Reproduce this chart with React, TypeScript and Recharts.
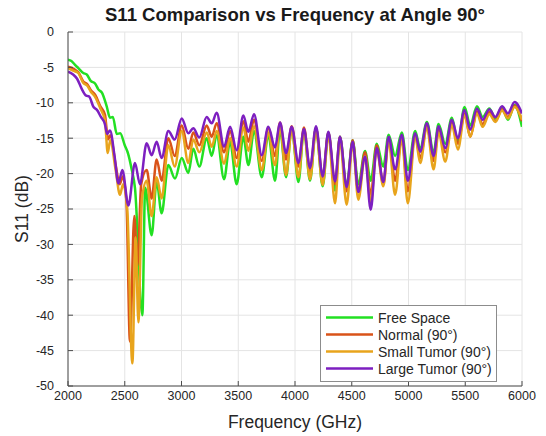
import { LineChart, Line, XAxis, YAxis, CartesianGrid, Legend, Label } from "recharts";

const FONT = '"Liberation Sans", Arial, sans-serif';

const xTicks = [2000, 2500, 3000, 3500, 4000, 4500, 5000, 5500, 6000];
const yTicks = [-50, -45, -40, -35, -30, -25, -20, -15, -10, -5, 0];

const seriesNames = ["Free Space", "Normal (90°)", "Small Tumor (90°)", "Large Tumor (90°)"];
const seriesColors = ["#22e022", "#d95319", "#e8a41c", "#7d1fc0"];

// 3000-6000 GHz: all four curves ripple in step, so they share these peak/trough positions
const tailFreq = [
  3002, 3060, 3104, 3157, 3222, 3266, 3310, 3375, 3428, 3486, 3545, 3589, 3639, 3707, 3765, 3824,
  3868, 3921, 3971, 4030, 4079, 4132, 4185, 4244, 4294, 4353, 4396, 4455, 4508, 4558, 4617, 4667,
  4720, 4778, 4825, 4882, 4941, 4994, 5059, 5103, 5162, 5221, 5265, 5324, 5382, 5435, 5494, 5544,
  5603, 5653, 5712, 5765, 5824, 5876, 5935, 6000,
];

// Free Space
const freeSpaceHeadFreq = [2000, 2030, 2060, 2091, 2135, 2165, 2200, 2240, 2267, 2300, 2341, 2370, 2395, 2430, 2460, 2500, 2530, 2560, 2590, 2655, 2680, 2737, 2781, 2825, 2884, 2943];
const freeSpaceHead = [-3.9, -4.1, -4.6, -5.1, -5.8, -6.0, -6.9, -7.3, -8.1, -8.6, -10.5, -12.1, -12.0, -14.4, -14.3, -16.0, -17.2, -19.3, -22.0, -40.0, -22.0, -28.7, -21.1, -25.6, -18.8, -20.7];
const freeSpaceTail = [
  -17.8, -19.9, -16.5, -19.0, -15.0, -17.5, -14.6, -20.8, -15.5, -21.5,
  -14.8, -18.8, -14.0, -20.5, -14.5, -21.0, -13.8, -20.5, -13.6, -21.2,
  -13.7, -21.0, -13.5, -21.8, -14.2, -22.4, -14.8, -21.8, -15.3, -21.5,
  -16.8, -21.0, -15.8, -19.0, -14.5, -17.5, -14.2, -19.5, -14.0, -16.5,
  -12.7, -17.0, -13.0, -15.8, -12.1, -15.5, -10.6, -13.2, -10.5, -12.0,
  -10.8, -12.2, -10.6, -12.4, -10.3, -13.4,
];

// Normal (90°)
const normalHeadFreq = [2000, 2050, 2091, 2135, 2170, 2200, 2240, 2285, 2326, 2352, 2372, 2420, 2455, 2482, 2515, 2546, 2584, 2612, 2645, 2693, 2737, 2781, 2825, 2884, 2940];
const normalHead = [-4.9, -5.2, -5.7, -7.0, -7.4, -8.2, -8.9, -10.5, -11.7, -15.2, -14.6, -18.8, -21.5, -20.4, -24.0, -43.7, -26.0, -33.0, -21.5, -19.5, -23.5, -18.0, -21.0, -15.0, -17.5];
const normalTail = [
  -13.2, -16.5, -14.2, -16.0, -13.2, -14.8, -12.9, -17.0, -14.0, -17.8,
  -12.6, -15.5, -12.4, -18.2, -13.6, -17.5, -12.8, -18.0, -13.3, -19.0,
  -13.5, -19.6, -13.6, -20.5, -14.2, -21.5, -14.8, -22.5, -15.3, -22.5,
  -17.0, -23.0, -16.0, -21.5, -15.0, -21.0, -14.8, -22.5, -14.5, -17.8,
  -13.2, -18.2, -13.8, -17.0, -12.8, -15.8, -11.5, -14.8, -11.2, -13.0,
  -11.3, -12.6, -10.9, -12.0, -10.4, -12.6,
];

// Small Tumor (90°)
const smallHeadFreq = [2000, 2050, 2091, 2135, 2170, 2200, 2240, 2285, 2326, 2350, 2372, 2420, 2458, 2485, 2522, 2567, 2596, 2620, 2652, 2693, 2737, 2781, 2825, 2884, 2940];
const smallHead = [-5.1, -5.5, -5.8, -7.2, -7.6, -8.4, -9.2, -10.8, -12.5, -17.1, -15.3, -19.5, -23.0, -21.5, -25.0, -46.8, -29.0, -41.0, -23.5, -21.0, -26.0, -20.5, -23.5, -16.0, -19.0];
const smallTail = [
  -14.0, -18.5, -15.2, -17.0, -14.2, -16.2, -14.0, -18.6, -15.0, -19.0,
  -13.5, -16.8, -13.3, -19.5, -14.2, -18.8, -13.3, -20.2, -13.8, -20.5,
  -13.9, -20.8, -13.9, -21.6, -14.5, -24.2, -15.1, -24.4, -15.7, -23.7,
  -17.5, -24.0, -16.6, -21.8, -15.3, -23.0, -15.0, -24.2, -14.8, -18.5,
  -13.5, -19.4, -14.2, -18.3, -13.1, -16.6, -11.8, -14.8, -11.5, -13.4,
  -11.6, -12.7, -11.1, -12.2, -10.6, -12.4,
];

// Large Tumor (90°)
const largeHeadFreq = [2000, 2045, 2080, 2120, 2160, 2185, 2225, 2255, 2290, 2325, 2345, 2370, 2410, 2444, 2479, 2532, 2590, 2634, 2693, 2737, 2781, 2825, 2884, 2940];
const largeHead = [-5.6, -6.0, -6.6, -8.0, -9.0, -9.1, -10.6, -11.0, -12.0, -13.0, -14.4, -13.9, -17.5, -21.4, -19.5, -24.5, -18.5, -21.5, -15.7, -17.4, -15.5, -17.8, -14.0, -15.2];
const largeTail = [
  -12.2, -14.3, -13.6, -14.9, -12.0, -12.9, -11.4, -16.2, -13.4, -16.7,
  -11.8, -14.1, -11.6, -17.4, -13.4, -16.3, -12.8, -17.1, -13.4, -18.5,
  -13.7, -19.2, -13.3, -20.4, -14.1, -21.1, -14.8, -21.9, -15.5, -22.6,
  -17.6, -25.1, -16.4, -21.2, -14.8, -19.4, -14.5, -21.0, -14.3, -16.9,
  -12.9, -17.5, -13.3, -16.4, -12.4, -15.0, -11.0, -13.8, -10.8, -12.4,
  -10.9, -12.0, -10.5, -11.5, -9.9, -11.5,
];

function toPoints(freq: number[], s11: number[]) {
  return freq.map((f, i) => ({ f, s11: s11[i] }));
}

const series = [
  toPoints([...freeSpaceHeadFreq, ...tailFreq], [...freeSpaceHead, ...freeSpaceTail]),
  toPoints([...normalHeadFreq, ...tailFreq], [...normalHead, ...normalTail]),
  toPoints([...smallHeadFreq, ...tailFreq], [...smallHead, ...smallTail]),
  toPoints([...largeHeadFreq, ...tailFreq], [...largeHead, ...largeTail]),
];

const tickStyle = { fill: "#262626", fontSize: 12.5, fontFamily: FONT };

function XTitle(props: any) {
  const vb = props.viewBox;
  return (
    <text x={vb.x + vb.width / 2} y={vb.y + 36} textAnchor="middle" dominantBaseline="central"
      fill="#262626" fontSize={17.5} fontFamily={FONT}>
      Frequency (GHz)
    </text>
  );
}

function YTitle(props: any) {
  const vb = props.viewBox;
  const cx = vb.x + 14;
  const cy = vb.y + vb.height / 2;
  return (
    <text x={cx} y={cy} transform={`rotate(-90 ${cx} ${cy})`} textAnchor="middle" dominantBaseline="central"
      fill="#262626" fontSize={17.5} fontFamily={FONT}>
      S11 (dB)
    </text>
  );
}

function LegendBox(props: any) {
  // keep the plotting order (Recharts sorts the payload by name)
  const items = [...(props.payload ?? [])].sort(
    (a: any, b: any) => seriesNames.indexOf(a.value) - seriesNames.indexOf(b.value)
  );
  return (
    <div style={{ border: "1px solid #8c8c8c", background: "#fff", padding: "3px 0 4px", fontFamily: FONT, fontSize: 14, color: "#262626" }}>
      {items.map((p: any) => (
        <div key={p.value} style={{ display: "flex", alignItems: "center", height: 17 }}>
          <svg width={57} height={17} style={{ flex: "none" }}>
            <line x1={5} x2={52} y1={8.5} y2={8.5} stroke={p.color} strokeWidth={2.5} />
          </svg>
          <span style={{ whiteSpace: "nowrap" }}>{p.value}</span>
        </div>
      ))}
    </div>
  );
}

export default function App() {
  return (
    <div style={{ position: "relative", width: 530, height: 428 }}>
      <div style={{ position: "absolute", top: -4, left: 60, width: 454, textAlign: "center", fontFamily: FONT, fontWeight: "bold", fontSize: 18.5, lineHeight: "22px", color: "#1a1a1a" }}>
        S11 Comparison vs Frequency at Angle 90°
      </div>
      <LineChart width={530} height={428} margin={{ top: 24, right: 16, bottom: 0, left: 0 }}>
        <CartesianGrid stroke="#e4e4e4" />
        <XAxis dataKey="f" type="number" domain={[2000, 6000]} ticks={xTicks} interval={0} allowDataOverflow
          height={50} tickSize={-5} tickMargin={10} stroke="#4d4d4d" tick={tickStyle}>
          <Label content={XTitle} />
        </XAxis>
        <XAxis xAxisId="top" orientation="top" dataKey="f" type="number" domain={[2000, 6000]} ticks={xTicks}
          interval={0} allowDataOverflow height={0} tickSize={-5} stroke="#4d4d4d" tick={false} />
        <YAxis type="number" domain={[-50, 0]} ticks={yTicks} interval={0} allowDataOverflow
          width={60} tickSize={-5} tickMargin={19} stroke="#4d4d4d" tick={tickStyle}>
          <Label content={YTitle} />
        </YAxis>
        <YAxis yAxisId="right" orientation="right" type="number" domain={[-50, 0]} ticks={yTicks} interval={0}
          allowDataOverflow width={0} tickSize={-5} stroke="#4d4d4d" tick={false} />
        {series.map((data, i) => (
          <Line key={seriesNames[i]} data={data} dataKey="s11" name={seriesNames[i]} type="monotone"
            stroke={seriesColors[i]} strokeWidth={2.5} dot={false} activeDot={false} isAnimationActive={false} />
        ))}
        <Legend layout="vertical" align="center" verticalAlign="middle" content={LegendBox}
          wrapperStyle={{ left: 312, top: 297, width: 177 }} />
      </LineChart>
    </div>
  );
}
